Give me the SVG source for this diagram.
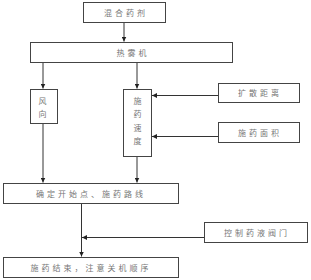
<svg xmlns="http://www.w3.org/2000/svg" width="311" height="280" viewBox="0 0 311 280">
<defs>
<marker id="ah" viewBox="0 0 6 6" refX="6" refY="3" markerWidth="5" markerHeight="5" orient="auto" markerUnits="userSpaceOnUse">
<path d="M0,0 L6,3 L0,6 Z" fill="#222"/>
</marker>
</defs>
<style>
.box{fill:#fff;stroke:#444;stroke-width:1}
.t{font-family:"Noto Sans CJK SC","Noto Sans CJK JP",sans-serif;font-size:8px;fill:#777;text-anchor:middle;letter-spacing:3px}
.c{stroke:#333;stroke-width:1;fill:none;marker-end:url(#ah)}
</style>
<rect width="311" height="280" fill="#fff"/>
<g id="connectors">
<line class="c" x1="124" y1="22.5" x2="124" y2="41.5"/>
<line class="c" x1="43" y1="62.5" x2="43" y2="88.5"/>
<line class="c" x1="137" y1="62.5" x2="137" y2="88.5"/>
<line class="c" x1="218" y1="95.5" x2="152" y2="95.5"/>
<line class="c" x1="218" y1="136.5" x2="152" y2="136.5"/>
<line class="c" x1="43" y1="123.5" x2="43" y2="182.5"/>
<line class="c" x1="137" y1="156.5" x2="137" y2="182.5"/>
<line class="c" x1="81.5" y1="203.5" x2="81.5" y2="256.5"/>
<line class="c" x1="204" y1="237.5" x2="82" y2="237.5"/>
</g>
<g id="n1"><rect class="box" x="83.5" y="2.5" width="82" height="20"/><text class="t" x="126" y="15.5">混合药剂</text></g>
<g id="n2"><rect class="box" x="30.5" y="42.5" width="202" height="20"/><text class="t" x="133" y="55.5">热雾机</text></g>
<g id="n3"><rect class="box" x="30.5" y="89.5" width="27" height="34"/><text class="t" x="44" y="103.5">风</text><text class="t" x="44" y="117">向</text></g>
<g id="n4"><rect class="box" x="123.5" y="89.5" width="28" height="67"/><text class="t" x="139" y="104">施</text><text class="t" x="139" y="117">药</text><text class="t" x="139" y="130.5">速</text><text class="t" x="139" y="144">度</text></g>
<g id="n5"><rect class="box" x="218.5" y="83.5" width="81" height="19"/><text class="t" x="260" y="96">扩散距离</text></g>
<g id="n6"><rect class="box" x="218.5" y="122.5" width="81" height="20"/><text class="t" x="260" y="135.5">施药面积</text></g>
<g id="n7"><rect class="box" x="3.5" y="183.5" width="175" height="20"/><text class="t" x="91" y="196.5">确定开始点、施药路线</text></g>
<g id="n8"><rect class="box" x="204.5" y="222.5" width="103" height="20"/><text class="t" x="257" y="235.5">控制药液阀门</text></g>
<g id="n9"><rect class="box" x="3.5" y="257.5" width="175" height="20"/><text class="t" x="91" y="270.5">施药结束，注意关机顺序</text></g>
</svg>
